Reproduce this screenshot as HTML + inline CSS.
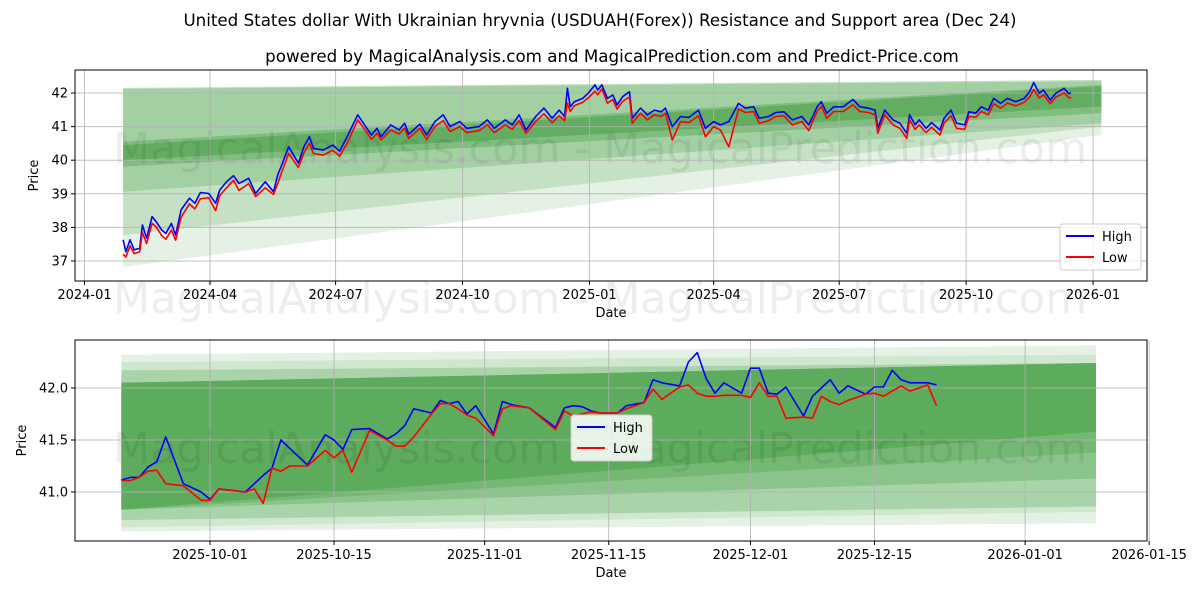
<!DOCTYPE html>
<html><head><meta charset="utf-8">
<style>
body{margin:0;background:#fff;}
svg{display:block;font-family:"DejaVu Sans","Liberation Sans",sans-serif;}
</style></head>
<body>
<svg id="chart" width="1200" height="600" viewBox="0 0 1200 600" xmlns="http://www.w3.org/2000/svg">
<text x="600" y="26" text-anchor="middle" font-size="16.7">United States dollar With Ukrainian hryvnia (USDUAH(Forex)) Resistance and Support area (Dec 24)</text>
<text x="612" y="62" text-anchor="middle" font-size="16.7">powered by MagicalAnalysis.com and MagicalPrediction.com and Predict-Price.com</text>
<g id="top"></g>
<g id="bot"></g>
</svg>
<script>
// ---------- TOP PANEL DATA ----------
const topDates=["2024-01-29","2024-01-31","2024-02-03","2024-02-06","2024-02-10","2024-02-12","2024-02-15","2024-02-19","2024-02-22","2024-02-26","2024-02-29","2024-03-04","2024-03-07","2024-03-11","2024-03-17","2024-03-21","2024-03-25","2024-03-31","2024-04-05","2024-04-08","2024-04-13","2024-04-18","2024-04-22","2024-04-29","2024-05-04","2024-05-11","2024-05-17","2024-05-20","2024-05-23","2024-05-28","2024-06-04","2024-06-08","2024-06-12","2024-06-15","2024-06-22","2024-06-29","2024-07-04","2024-07-10","2024-07-17","2024-07-22","2024-07-27","2024-07-31","2024-08-03","2024-08-10","2024-08-16","2024-08-20","2024-08-23","2024-08-31","2024-09-05","2024-09-11","2024-09-17","2024-09-22","2024-09-29","2024-10-04","2024-10-13","2024-10-19","2024-10-24","2024-11-01","2024-11-06","2024-11-11","2024-11-16","2024-11-23","2024-11-29","2024-12-05","2024-12-10","2024-12-14","2024-12-16","2024-12-18","2024-12-21","2024-12-27","2024-12-31","2025-01-05","2025-01-07","2025-01-10","2025-01-14","2025-01-18","2025-01-21","2025-01-25","2025-01-30","2025-02-01","2025-02-07","2025-02-12","2025-02-17","2025-02-22","2025-02-25","2025-03-02","2025-03-08","2025-03-14","2025-03-21","2025-03-26","2025-04-01","2025-04-06","2025-04-12","2025-04-19","2025-04-24","2025-04-30","2025-05-04","2025-05-11","2025-05-16","2025-05-22","2025-05-28","2025-06-04","2025-06-09","2025-06-15","2025-06-18","2025-06-22","2025-06-27","2025-07-04","2025-07-11","2025-07-16","2025-07-22","2025-07-27","2025-07-29","2025-08-03","2025-08-09","2025-08-14","2025-08-19","2025-08-21","2025-08-25","2025-08-28","2025-09-02","2025-09-06","2025-09-12","2025-09-15","2025-09-20","2025-09-24","2025-09-30","2025-10-03","2025-10-08","2025-10-12","2025-10-17","2025-10-21","2025-10-26","2025-10-31","2025-11-06","2025-11-12","2025-11-16","2025-11-19","2025-11-23","2025-11-26","2025-12-01","2025-12-05","2025-12-11","2025-12-14","2025-12-16"];
const topHigh=[37.63,37.28,37.63,37.33,37.38,38.07,37.68,38.32,38.17,37.92,37.82,38.12,37.77,38.52,38.87,38.72,39.04,39.01,38.72,39.11,39.36,39.54,39.31,39.46,39.01,39.36,39.06,39.56,39.86,40.40,39.91,40.40,40.70,40.35,40.30,40.45,40.27,40.75,41.35,41.05,40.75,40.95,40.70,41.05,40.90,41.10,40.77,41.07,40.75,41.15,41.35,41.00,41.15,40.95,41.00,41.20,40.95,41.20,41.05,41.35,40.90,41.30,41.55,41.25,41.49,41.30,42.14,41.59,41.74,41.84,41.99,42.24,42.09,42.24,41.84,41.94,41.64,41.89,42.04,41.25,41.55,41.35,41.49,41.44,41.55,41.00,41.30,41.27,41.49,40.95,41.15,41.05,41.15,41.69,41.55,41.59,41.25,41.30,41.42,41.44,41.20,41.30,41.05,41.59,41.74,41.40,41.59,41.59,41.81,41.59,41.55,41.49,40.95,41.49,41.20,41.10,40.80,41.35,41.05,41.20,40.95,41.12,40.90,41.25,41.49,41.10,41.05,41.44,41.40,41.59,41.49,41.84,41.69,41.84,41.74,41.84,42.04,42.31,41.99,42.09,41.79,41.99,42.14,41.99,41.99];
const topLow=[37.20,37.12,37.45,37.22,37.27,37.85,37.52,38.12,38.02,37.75,37.65,37.92,37.62,38.30,38.70,38.55,38.85,38.88,38.50,38.95,39.18,39.40,39.10,39.30,38.92,39.18,38.98,39.30,39.65,40.20,39.78,40.22,40.50,40.20,40.15,40.30,40.12,40.55,41.20,40.92,40.62,40.80,40.60,40.90,40.78,40.95,40.65,40.95,40.62,41.00,41.18,40.85,41.00,40.82,40.88,41.05,40.82,41.05,40.92,41.18,40.80,41.15,41.38,41.12,41.32,41.18,41.70,41.45,41.62,41.72,41.85,42.05,41.95,42.12,41.70,41.80,41.52,41.75,41.88,41.10,41.40,41.20,41.35,41.30,41.40,40.60,41.15,41.12,41.32,40.70,41.00,40.90,40.40,41.52,41.42,41.45,41.10,41.18,41.30,41.32,41.05,41.15,40.88,41.45,41.60,41.25,41.45,41.45,41.65,41.45,41.42,41.35,40.80,41.35,41.05,40.95,40.65,41.20,40.92,41.05,40.82,40.98,40.75,41.10,41.32,40.95,40.92,41.30,41.28,41.45,41.35,41.68,41.55,41.70,41.62,41.72,41.88,42.10,41.85,41.95,41.68,41.88,42.00,41.88,41.84];
const topYTicks=[37,38,39,40,41,42];
const topXTicks=["2024-01","2024-04","2024-07","2024-10","2025-01","2025-04","2025-07","2025-10","2026-01"];
const topBandStart="2024-01-29", topBandEnd="2026-01-07";
const topBandStartLow=[36.82,37.77,39.06,39.81,40.00];
const topBandStartHigh=[42.15,42.15,42.12,40.55,40.45];
const topBandEndLow=[40.75,41.00,41.10,41.40,41.60];
const topBandEndHigh=[42.39,42.39,42.35,42.24,42.20];

// ---------- BOTTOM PANEL DATA ----------
const botDates=["2025-09-21","2025-09-22","2025-09-23","2025-09-24","2025-09-25","2025-09-26","2025-09-28","2025-09-30","2025-10-01","2025-10-02","2025-10-03","2025-10-05","2025-10-06","2025-10-07","2025-10-08","2025-10-09","2025-10-10","2025-10-12","2025-10-14","2025-10-15","2025-10-16","2025-10-17","2025-10-19","2025-10-21","2025-10-22","2025-10-23","2025-10-24","2025-10-26","2025-10-27","2025-10-28","2025-10-29","2025-10-30","2025-10-31","2025-11-02","2025-11-03","2025-11-04","2025-11-06","2025-11-09","2025-11-10","2025-11-11","2025-11-12","2025-11-13","2025-11-14","2025-11-16","2025-11-17","2025-11-19","2025-11-20","2025-11-21","2025-11-23","2025-11-24","2025-11-25","2025-11-26","2025-11-27","2025-11-28","2025-11-30","2025-12-01","2025-12-02","2025-12-03","2025-12-04","2025-12-05","2025-12-07","2025-12-08","2025-12-09","2025-12-10","2025-12-11","2025-12-12","2025-12-14","2025-12-15","2025-12-16","2025-12-17","2025-12-18","2025-12-19","2025-12-21","2025-12-22"];
const botHigh=[41.115,41.14,41.14,41.24,41.29,41.53,41.08,41.00,40.93,41.03,41.02,41.00,41.08,41.16,41.23,41.50,41.42,41.26,41.55,41.50,41.41,41.60,41.61,41.51,41.56,41.64,41.80,41.76,41.88,41.85,41.87,41.75,41.83,41.56,41.87,41.84,41.81,41.62,41.81,41.83,41.82,41.78,41.76,41.76,41.83,41.86,42.08,42.05,42.02,42.25,42.34,42.09,41.95,42.05,41.95,42.19,42.19,41.95,41.94,42.01,41.73,41.92,42.00,42.08,41.95,42.02,41.94,42.01,42.01,42.17,42.08,42.05,42.05,42.03];
const botLow=[41.11,41.11,41.14,41.20,41.21,41.08,41.06,40.92,40.92,41.03,41.02,41.00,41.03,40.89,41.23,41.20,41.25,41.25,41.40,41.33,41.40,41.19,41.59,41.50,41.44,41.44,41.53,41.75,41.85,41.85,41.80,41.74,41.71,41.54,41.80,41.83,41.81,41.60,41.78,41.73,41.75,41.77,41.76,41.76,41.80,41.86,41.99,41.89,42.01,42.03,41.95,41.92,41.92,41.93,41.93,41.91,42.05,41.92,41.92,41.71,41.72,41.71,41.92,41.87,41.84,41.88,41.94,41.95,41.92,41.97,42.02,41.97,42.03,41.83];
const botYTicks=[41.0,41.5,42.0];
const botXTicks=["2025-10-01","2025-10-15","2025-11-01","2025-11-15","2025-12-01","2025-12-15","2026-01-01","2026-01-15"];
const botBandStart="2025-09-21", botBandEnd="2026-01-09";
const botBandStartLow=[40.62,40.66,40.73,40.83,40.83,40.83];
const botBandStartHigh=[42.32,42.25,42.17,42.05,42.05,42.05];
const botBandEndLow=[40.70,40.81,40.86,41.13,41.38,41.58];
const botBandEndHigh=[42.41,42.32,42.24,42.24,42.24,42.24];

const NS="http://www.w3.org/2000/svg";
const DAY=86400000;
function dayNum(s){const p=s.split("-");return Date.UTC(+p[0],+p[1]-1,p[2]?+p[2]:1)/DAY;}
function mk(tag,attrs,parent){const e=document.createElementNS(NS,tag);for(const k in attrs)e.setAttribute(k,attrs[k]);parent.appendChild(e);return e;}

const topX=d=>84.5+(dayNum(d)-dayNum("2024-01-01"))*1.3797;
const topY=v=>93+(42-v)*33.6;
const botX=d=>210+(dayNum(d)-dayNum("2025-10-01"))*8.86;
const botY=v=>388+(42-v)*104;

const bandColsTop=["#e4f1e4","#c4e1c4","#a3d0a3","#7fbe7f","#62ad62"];
const bandColsBot=["#e4f1e4","#cfe7cf","#a9d4a9","#8ac48a","#74b874","#5dab5d"];

function panel(g,o){
  const {L,T,R,B}=o;
  // bands
  for(let i=0;i<o.sl.length;i++){
    const x1=o.x(o.bs),x2=o.x(o.be);
    const p=mk("polygon",{points:`${x1},${o.y(o.sh[i])} ${x2},${o.y(o.eh[i])} ${x2},${o.y(o.el[i])} ${x1},${o.y(o.sl[i])}`,fill:o.cols[i]},g);
    
    
  }
  // watermark
  const wm=mk("text",{x:600,y:o.wmY,"text-anchor":"middle","font-size":"43",fill:"rgba(0,0,0,0.07)"},g);
  wm.textContent="MagicalAnalysis.com - MagicalPrediction.com";
  
  
  // grid + ticks
  o.yt.forEach(v=>{
    const y=o.y(v);
    const gl=mk("line",{x1:L,x2:R,y1:y,y2:y,stroke:"#b0b0b0","stroke-width":1,"stroke-opacity":0.8},g);
    
    
    mk("line",{x1:L-4,x2:L,y1:y,y2:y,stroke:"#000"},g);
    const t=mk("text",{x:L-7,y:y+4.5,"text-anchor":"end","font-size":"13"},g);
    t.textContent=o.yfmt(v);
    
    
  });
  o.xt.forEach(d=>{
    const x=o.x(d);
    const gl=mk("line",{x1:x,x2:x,y1:T,y2:B,stroke:"#b0b0b0","stroke-width":1,"stroke-opacity":0.8},g);
    
    
    mk("line",{x1:x,x2:x,y1:B,y2:B+4,stroke:"#000"},g);
    const t=mk("text",{x:x,y:B+18,"text-anchor":"middle","font-size":"13"},g);
    t.textContent=d;
    
    
  });
  // series
  [[o.hi,"#0000ff","high-line"],[o.lo,"#ff0000","low-line"]].forEach(([arr,c,n])=>{
    const pts=o.dates.map((d,i)=>o.x(d).toFixed(1)+","+o.y(arr[i]).toFixed(1)).join(" ");
    const pl=mk("polyline",{points:pts,fill:"none",stroke:c,"stroke-width":1.6,"stroke-linejoin":"round"},g);
    
    
  });
  const fr=mk("rect",{x:L,y:T,width:R-L,height:B-T,fill:"none",stroke:"#000","stroke-width":1},g);
  
  
  const xl=mk("text",{x:(L+R)/2,y:B+36,"text-anchor":"middle","font-size":"13"},g);
  xl.textContent="Date";
  
  
  const yl=mk("text",{x:o.ylx,y:(T+B)/2,"text-anchor":"middle","font-size":"13",transform:`rotate(-90 ${o.ylx} ${(T+B)/2})`},g);
  yl.textContent="Price";
  
  
  // legend
  const lg=mk("g",{},g);
  
  
  mk("rect",{x:o.lgx,y:o.lgy,width:81,height:46,rx:3,fill:"rgba(255,255,255,0.85)",stroke:"#ccc"},lg);
  [["High","#0000ff"],["Low","#ff0000"]].forEach(([n,c],i)=>{
    const yy=o.lgy+12+i*21;
    const ln=mk("line",{x1:o.lgx+6,x2:o.lgx+34,y1:yy,y2:yy,stroke:c,"stroke-width":2},lg);
    
    
    const t=mk("text",{x:o.lgx+42,y:yy+5,"font-size":"13"},lg);
    t.textContent=n;
    
    
  });
}
panel(document.getElementById("top"),{L:75,T:70,R:1147,B:281,x:topX,y:topY,dates:topDates,hi:topHigh,lo:topLow,
  yt:topYTicks,xt:topXTicks,yfmt:v=>String(v),bs:topBandStart,be:topBandEnd,sl:topBandStartLow,sh:topBandStartHigh,el:topBandEndLow,eh:topBandEndHigh,
  cols:bandColsTop,wmY:163,ylx:38,lgx:1060,lgy:224});
panel(document.getElementById("bot"),{L:75,T:340,R:1147,B:541,x:botX,y:botY,dates:botDates,hi:botHigh,lo:botLow,
  yt:botYTicks,xt:botXTicks,yfmt:v=>v.toFixed(1),bs:botBandStart,be:botBandEnd,sl:botBandStartLow,sh:botBandStartHigh,el:botBandEndLow,eh:botBandEndHigh,
  cols:bandColsBot,wmY:463,ylx:26,lgx:571,lgy:415});
// middle watermark
const mw=document.createElementNS(NS,"text");
mw.setAttribute("x","600");mw.setAttribute("y","313");mw.setAttribute("text-anchor","middle");mw.setAttribute("font-size","43");mw.setAttribute("fill","rgba(0,0,0,0.07)");
mw.textContent="MagicalAnalysis.com - MagicalPrediction.com";


document.getElementById("chart").insertBefore(mw,document.getElementById("top"));
</script>
</body></html>
